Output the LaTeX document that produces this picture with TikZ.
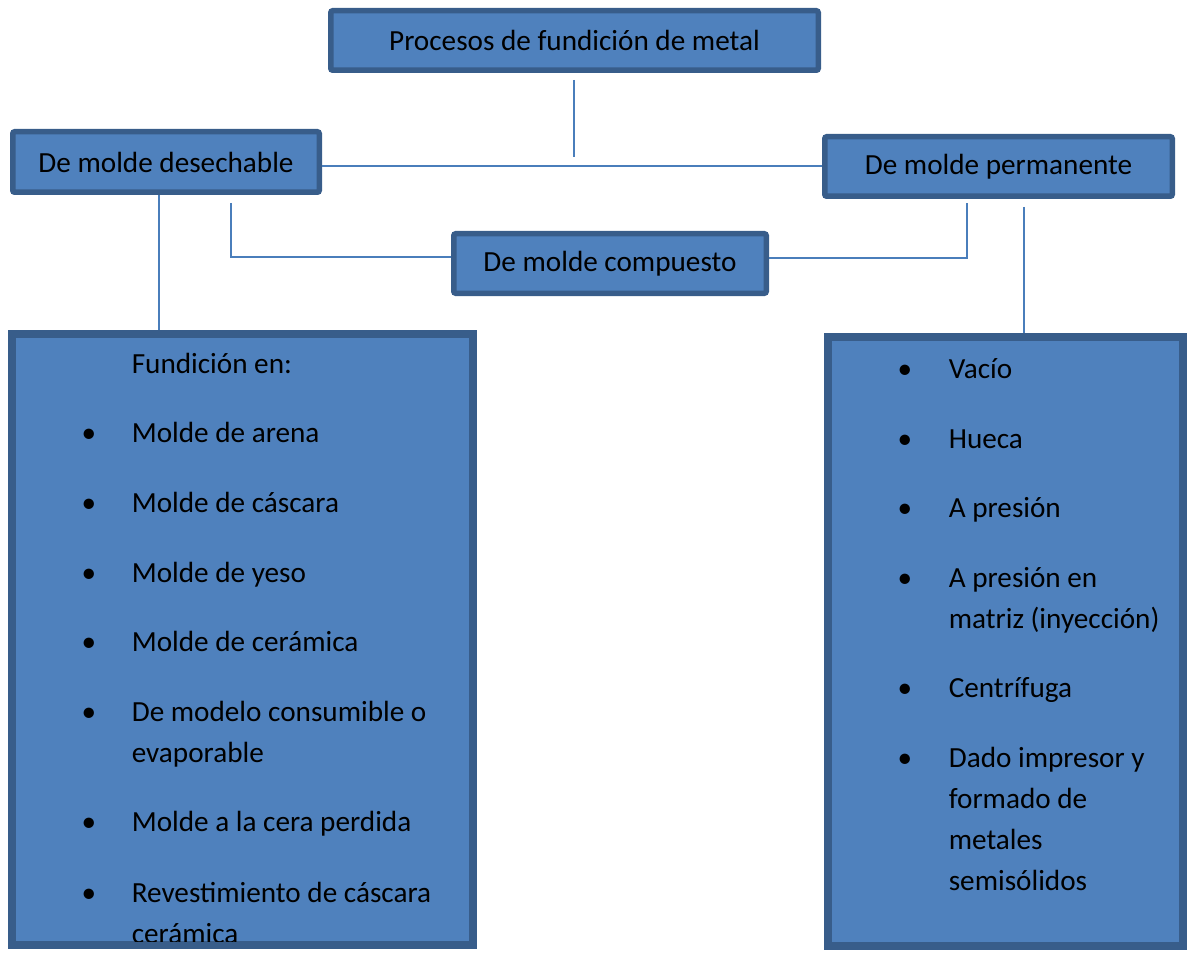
\documentclass[tikz,border=0pt]{standalone}
\usepackage{fontspec}
\setmainfont{Carlito}
\usetikzlibrary{calc,positioning,shadows}
\definecolor{boxfill}{HTML}{4F81BD}
\definecolor{boxline}{HTML}{385D8A}
\definecolor{linkline}{HTML}{4A7EBB}

\begin{document}
\begin{tikzpicture}[x=0.5pt,y=0.5pt,thick,
    box/.style={draw=boxline,fill=boxfill,line width=2.75pt,rounded corners=1pt,inner sep=0pt,font=\fontsize{14.6}{20.5}\selectfont},
    bigbox/.style={draw=boxline,fill=boxfill,line width=4pt,inner sep=0pt,drop shadow={shadow xshift=1.5pt,shadow yshift=-1.5pt,fill=black!35,opacity=1}},
    item/.style={anchor=base west,inner sep=0pt,align=left,font=\fontsize{14.6}{20.5}\selectfont},
    bul/.style={anchor=base,inner sep=0pt,font=\fontsize{14.6}{20.5}\selectfont},
    link/.style={draw=linkline,line width=1pt}]
    \useasboundingbox (0,0) rectangle (1188,-957);

    \node[box, minimum width=243.75pt, minimum height=29.75pt] (procesos) at (574.5,-40.5) {Procesos de fundición de metal};
    \node[box, minimum width=153.25pt, minimum height=30.25pt] (desechable) at (166,-162) {De molde desechable};
    \node[box, minimum width=173.75pt, minimum height=29.75pt] (permanente) at (998.5,-166.5) {De molde permanente};
    \node[box, minimum width=156.25pt, minimum height=29.75pt] (compuesto) at (610,-263.5) {De molde compuesto};
    \node[bigbox, minimum width=230.5pt, minimum height=305.5pt] (lista_des) at (242.5,-639.5) {};
    \node[bigbox, minimum width=177.5pt, minimum height=304.5pt] (lista_perm) at (1005.5,-641.5) {};
    %

    % base of a multi-line item = its last line
    \node[item] (des_l0) at (131,-373) {Fundición en:};
    \node[item] (des_l1) at (131,-442) {Molde de arena};
    \node[item] (des_l2) at (131,-512) {Molde de cáscara};
    \node[item] (des_l3) at (131,-582) {Molde de yeso};
    \node[item] (des_l4) at (131,-651) {Molde de cerámica};
    \node[item] (des_l5) at (131,-762) {De modelo consumible o\\evaporable};
    \node[item] (des_l6) at (131,-831) {Molde a la cera perdida};
    \begin{scope}
        \clip ($(lista_des.south west)+(0,8)$) rectangle (lista_des.north east);
        \node[item] (des_l7) at (131,-943) {Revestimiento de cáscara\\cerámica};
    \end{scope}
    \node[bul] (des_b1) at ($(des_l1.base west)+(-42,0)$) {\textbullet};
    \node[bul] (des_b2) at ($(des_l2.base west)+(-42,0)$) {\textbullet};
    \node[bul] (des_b3) at ($(des_l3.base west)+(-42,0)$) {\textbullet};
    \node[bul] (des_b4) at ($(des_l4.base west)+(-42,0)$) {\textbullet};
    \node[bul] (des_b5) at ($(des_l5.base west)+(-42,41)$) {\textbullet};
    \node[bul] (des_b6) at ($(des_l6.base west)+(-42,0)$) {\textbullet};
    \node[bul] (des_b7) at ($(des_l7.base west)+(-42,41)$) {\textbullet};
    %

    \node[item] (perm_l1) at (948,-378) {Vacío};
    \node[item] (perm_l2) at (948,-448) {Hueca};
    \node[item] (perm_l3) at (948,-517) {A presión};
    \node[item] (perm_l4) at (948,-628) {A presión en\\matriz (inyección)};
    \node[item] (perm_l5) at (948,-697) {Centrífuga};
    \node[item] (perm_l6) at (948,-890) {Dado impresor y\\formado de\\metales\\semisólidos};
    \node[bul] (perm_b1) at ($(perm_l1.base west)+(-43,0)$) {\textbullet};
    \node[bul] (perm_b2) at ($(perm_l2.base west)+(-43,0)$) {\textbullet};
    \node[bul] (perm_b3) at ($(perm_l3.base west)+(-43,0)$) {\textbullet};
    \node[bul] (perm_b4) at ($(perm_l4.base west)+(-43,41)$) {\textbullet};
    \node[bul] (perm_b5) at ($(perm_l5.base west)+(-43,0)$) {\textbullet};
    \node[bul] (perm_b6) at ($(perm_l6.base west)+(-43,123)$) {\textbullet};
    %

    \coordinate (proc_out) at ($(procesos.south)+(-0.5,-7)$);
    \coordinate (proc_end) at ($(proc_out)+(0,-77)$);
    \coordinate (des_out) at ($(desechable.south)+(-7,0)$);
    \coordinate (des_comp) at ($(desechable.south)+(65,-8)$);
    \coordinate (comp_izq) at ($(compuesto.west)+(0,6)$);
    \coordinate (comp_der) at ($(compuesto.east)+(0,5)$);
    \coordinate (perm_comp) at ($(permanente.south)+(-31.5,-4)$);
    \coordinate (perm_out) at ($(permanente.south)+(25.5,-8)$);

    \draw[link] (proc_out) -- (proc_end);
    \draw[link] (desechable.east |- permanente.west) -- (permanente.west);
    \draw[link] (des_out) -- (des_out |- lista_des.north);
    \draw[link] (des_comp) |- (comp_izq);
    \draw[link] (comp_der) -| (perm_comp);
    \draw[link] (perm_out) -- (perm_out |- lista_perm.north);
\end{tikzpicture}
\end{document}
